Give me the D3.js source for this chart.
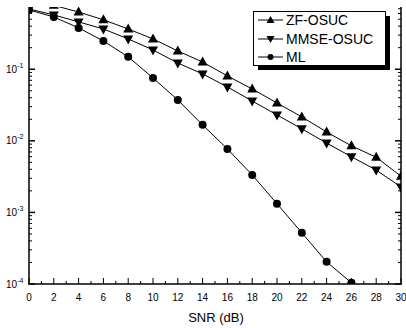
<!DOCTYPE html>
<html>
<head>
<meta charset="utf-8">
<script src="https://cdn.jsdelivr.net/npm/d3@7"></script>
<style>
  body { margin: 0; background: #fff; }
  svg { display: block; font-family: "Liberation Sans", Arial, sans-serif; }
</style>
</head>
<body>
<svg id="chart" width="406" height="328"></svg>
<script>
// SNR points (dB)
const snr = [0, 2, 4, 6, 8, 10, 12, 14, 16, 18, 20, 22, 24, 26, 28, 30];
const zfOsuc = [0.85, 0.78, 0.63, 0.49, 0.365, 0.265, 0.18, 0.126, 0.0806, 0.053, 0.0338, 0.0216, 0.0133, 0.0085, 0.0059, 0.0032];
const mmseOsuc = [0.695, 0.573, 0.458, 0.365, 0.265, 0.186, 0.122, 0.086, 0.0566, 0.036, 0.023, 0.0147, 0.0093, 0.006, 0.0039, 0.00227];
const mlSnr = [0, 2, 4, 6, 8, 10, 12, 14, 16, 18, 20, 22, 24, 26];
const ml = [0.673, 0.537, 0.378, 0.248, 0.149, 0.0755, 0.0372, 0.0167, 0.0077, 0.00334, 0.00132, 0.00052, 0.000204, 0.000104];
const xTicks = [0, 2, 4, 6, 8, 10, 12, 14, 16, 18, 20, 22, 24, 26, 28, 30];
const yDecades = [-4, -3, -2, -1];
const seriesNames = ["ZF-OSUC", "MMSE-OSUC", "ML"];

const mLeft = 29, mRight = 401, mTop = 7, mBottom = 284;

const svg = d3.select("#chart");

const x = d3.scaleLinear().domain([0, 30]).range([mLeft, mRight]);
const y = d3.scaleLog().domain([1e-4, 0.74]).range([mBottom, mTop]);

svg.append("defs").append("clipPath").attr("id", "plotClip")
  .append("rect")
  .attr("x", mLeft).attr("y", mTop)
  .attr("width", mRight - mLeft).attr("height", mBottom - mTop);

// minor log ticks
const minorY = [];
for (let e = -4; e <= -1; e++) {
  for (let m = 1; m <= 9; m++) {
    const v = m * Math.pow(10, e);
    if (v <= 0.74) minorY.push(v);
  }
}
const isMajor = d => Math.abs(Math.log10(d) - Math.round(Math.log10(d))) < 1e-6;

const axes = svg.append("g").attr("stroke", "#000").attr("fill", "none");

// left & right axes
[mLeft, mRight].forEach((ax, i) => {
  const dir = i === 0 ? 1 : -1;
  axes.append("line")
    .attr("x1", ax).attr("x2", ax)
    .attr("y1", mTop).attr("y2", mBottom)
    .attr("stroke-width", 1.5);
  axes.selectAll(null)
    .data(minorY)
    .join("line")
    .attr("x1", ax)
    .attr("x2", d => ax + dir * (isMajor(d) ? 6 : 3))
    .attr("y1", d => y(d)).attr("y2", d => y(d))
    .attr("stroke-width", d => isMajor(d) ? 1.5 : 1);
});

// bottom axis
axes.append("line")
  .attr("x1", mLeft - 1).attr("x2", mRight + 1)
  .attr("y1", mBottom).attr("y2", mBottom)
  .attr("stroke-width", 1.5);

const xAll = d3.range(0, 31, 1);
axes.selectAll(null)
  .data(xAll)
  .join("line")
  .attr("x1", d => x(d)).attr("x2", d => x(d))
  .attr("y1", mBottom)
  .attr("y2", d => mBottom - (d % 2 === 0 ? 6 : 3))
  .attr("stroke-width", 1);

// x tick labels
svg.append("g")
  .selectAll("text")
  .data(xTicks)
  .join("text")
  .attr("x", d => x(d))
  .attr("y", 301)
  .attr("text-anchor", "middle")
  .attr("font-size", 10)
  .attr("fill", "#000")
  .text(d => d);

// y tick labels
const yl = svg.append("g")
  .selectAll("text")
  .data(yDecades)
  .join("text")
  .attr("x", 6)
  .attr("y", d => y(Math.pow(10, d)) + 3.5)
  .attr("font-size", 10)
  .attr("fill", "#000");
yl.append("tspan").text("10");
yl.append("tspan").attr("dy", -5).attr("font-size", 7).text(d => d);

// axis title
svg.append("text")
  .attr("x", 216)
  .attr("y", 322)
  .attr("text-anchor", "middle")
  .attr("font-size", 13)
  .attr("fill", "#000")
  .text("SNR (dB)");

// series
const series = [
  { name: seriesNames[0], xs: snr, ys: zfOsuc, sym: "up" },
  { name: seriesNames[1], xs: snr, ys: mmseOsuc, sym: "down" },
  { name: seriesNames[2], xs: mlSnr, ys: ml, sym: "circle" }
];

const line = d3.line().x(d => x(d[0])).y(d => y(d[1]));

function marker(g, sym) {
  if (sym === "circle") {
    g.append("circle").attr("r", 4).attr("fill", "#000");
  } else if (sym === "up") {
    g.append("path").attr("d", "M0,-5.5L5,3.5L-5,3.5Z").attr("fill", "#000");
  } else {
    g.append("path").attr("d", "M0,5.5L5,-3.5L-5,-3.5Z").attr("fill", "#000");
  }
}

const plot = svg.append("g").attr("clip-path", "url(#plotClip)");

series.forEach(s => {
  const pts = s.xs.map((v, i) => [v, s.ys[i]]);
  plot.append("path")
    .datum(pts)
    .attr("d", line)
    .attr("fill", "none")
    .attr("stroke", "#000")
    .attr("stroke-width", 1);
  plot.selectAll(null)
    .data(pts)
    .join("g")
    .attr("transform", d => `translate(${x(d[0])},${y(d[1])})`)
    .each(function () { marker(d3.select(this), s.sym); });
});

// legend
const lg = svg.append("g");
lg.append("rect")
  .attr("x", 258).attr("y", 16)
  .attr("width", 132).attr("height", 54)
  .attr("fill", "#000");
lg.append("rect")
  .attr("x", 253.5).attr("y", 11.5)
  .attr("width", 132).attr("height", 54)
  .attr("fill", "#fff")
  .attr("stroke", "#000")
  .attr("stroke-width", 1);

const rows = [20, 39, 57];
series.forEach((s, i) => {
  const ry = rows[i];
  lg.append("line")
    .attr("x1", 258).attr("x2", 283)
    .attr("y1", ry).attr("y2", ry)
    .attr("stroke", "#000").attr("stroke-width", 1);
  const m = lg.append("g").attr("transform", `translate(270.5,${ry})`);
  if (s.sym === "circle") m.append("circle").attr("r", 3).attr("fill", "#000");
  else if (s.sym === "up") m.append("path").attr("d", "M0,-4L4,3L-4,3Z").attr("fill", "#000");
  else m.append("path").attr("d", "M0,4L4,-3L-4,-3Z").attr("fill", "#000");
  lg.append("text")
    .attr("x", 286)
    .attr("y", ry + 5)
    .attr("font-size", 14)
    .attr("fill", "#000")
    .text(s.name);
});
</script>
</body>
</html>
